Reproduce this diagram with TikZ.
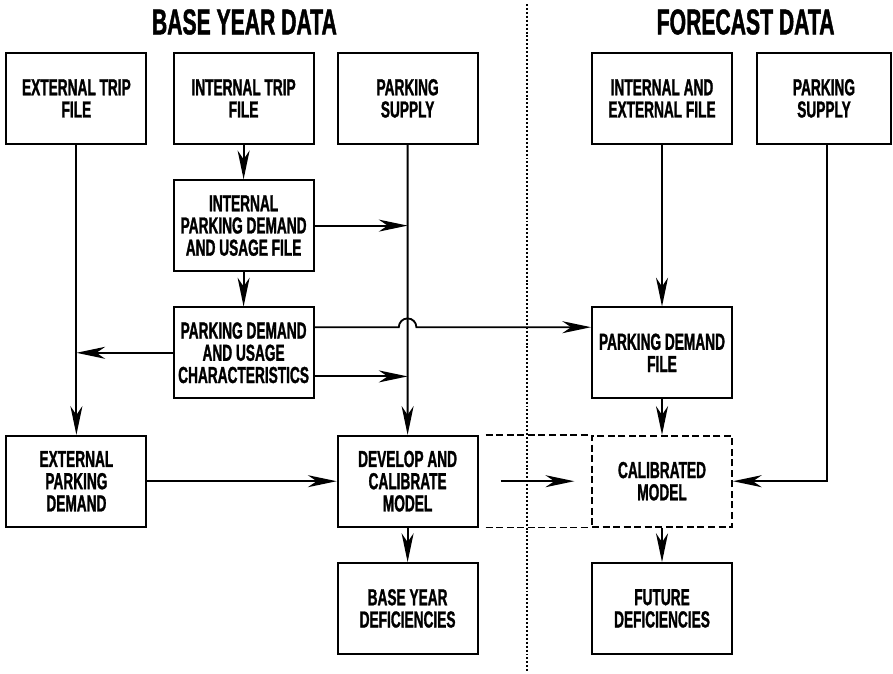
\documentclass[tikz,border=0pt]{standalone}
\usepackage{fontspec}
\setmainfont[FakeStretch=0.59, BoldFeatures={FakeBold=1.2}]{Liberation Sans}
\usepackage{tikz}
\usetikzlibrary{arrows.meta}

\begin{document}
\begin{tikzpicture}[node distance=3.18cm, line width=1.3pt,
  block/.style={draw, align=center, minimum width=3.5cm, minimum height=2.27cm, inner sep=2pt, font=\fontsize{16.5pt}{15.8pt}\selectfont\bfseries},
  heading/.style={font=\fontsize{25.5pt}{27pt}\selectfont\bfseries},
  flow/.style={-{Stealth[length=0.72cm, width=0.3cm, inset=0.22cm]}},
  dashbox/.style={dash pattern=on 5pt off 2.5pt}]
\useasboundingbox (0,0) rectangle (22.325,-16.825);
\node[heading] (btitle) at (6.11,-0.55) {BASE YEAR DATA};
\node[heading] (ftitle) at (18.64,-0.55) {FORECAST DATA};
\node[block] (ext) at (1.91,-2.46) {EXTERNAL TRIP\\FILE};
\node[block, right of=ext, xshift=1.0cm] (intr) {INTERNAL TRIP\\FILE};
\node[block, right of=intr, xshift=0.92cm] (psup) {PARKING\\SUPPLY};
\node[block, right of=psup, xshift=3.18cm] (ienf) {INTERNAL AND\\EXTERNAL FILE};
\node[block, right of=ienf, xshift=0.87cm, minimum width=3.35cm] (fsup) {PARKING\\SUPPLY};
\node[block, below of=intr] (ipd) {INTERNAL\\PARKING DEMAND\\AND USAGE FILE};
\node[block, below of=ipd] (pduc) {PARKING DEMAND\\AND USAGE\\CHARACTERISTICS};
\node[block, below of=ienf, yshift=-3.18cm] (pdf) {PARKING DEMAND\\FILE};
\node[block, below of=ext, yshift=-6.39cm] (epd) {EXTERNAL\\PARKING\\DEMAND};
\node[block, right of=epd, xshift=5.1cm] (dev) {DEVELOP AND\\CALIBRATE\\MODEL};
\node[block, below of=dev] (byd) {BASE YEAR\\DEFICIENCIES};
\node[block, dashbox, right of=dev, xshift=3.18cm] (cal) {CALIBRATED\\MODEL};
\node[block, below of=cal] (fut) {FUTURE\\DEFICIENCIES};
\coordinate (divtop) at (13.175,-0.1);
\coordinate (divbot) at (13.175,-16.825);
\draw[line width=1.6pt, dash pattern=on 1.4pt off 1.4pt] (divtop) -- (divbot);
\draw[dashbox] ([xshift=0.18cm]dev.north east) -- (cal.north west);
\draw[dashbox] ([xshift=0.18cm]dev.south east) -- (cal.south west);
\path ([yshift=0.64cm]pduc.east) coordinate (upout) ([yshift=-0.59cm]pduc.east) coordinate (lowout);
\coordinate (hop) at (upout -| psup.south);
\draw[flow] (intr) -- (ipd);
\draw[flow] (ipd) -- (pduc);
\draw[flow] (ipd.east) -- (ipd.east -| psup.south);
\draw[flow] (ext) -- (epd);
\draw[flow] (pduc.west) -- (pduc.west -| ext.south);
\draw[flow] (lowout) -- (lowout -| psup.south);
\draw[flow] (upout) -- ([xshift=-0.22cm]hop) arc[start angle=180, end angle=0, radius=0.22cm] -- (upout -| pdf.west);
\draw[flow] (psup.south) -- (dev.north);
\draw[flow] (epd) -- (dev);
\draw[flow] (dev) -- (byd);
\draw[flow] ([xshift=0.55cm]dev.east) -- ([xshift=-0.42cm]cal.west);
\draw[flow] (ienf) -- (pdf);
\draw[flow] (pdf) -- (cal);
\draw[flow] ([xshift=0.07cm]fsup.south) |- (cal.east);
\draw[flow] (cal) -- (fut);
\end{tikzpicture}
\end{document}
